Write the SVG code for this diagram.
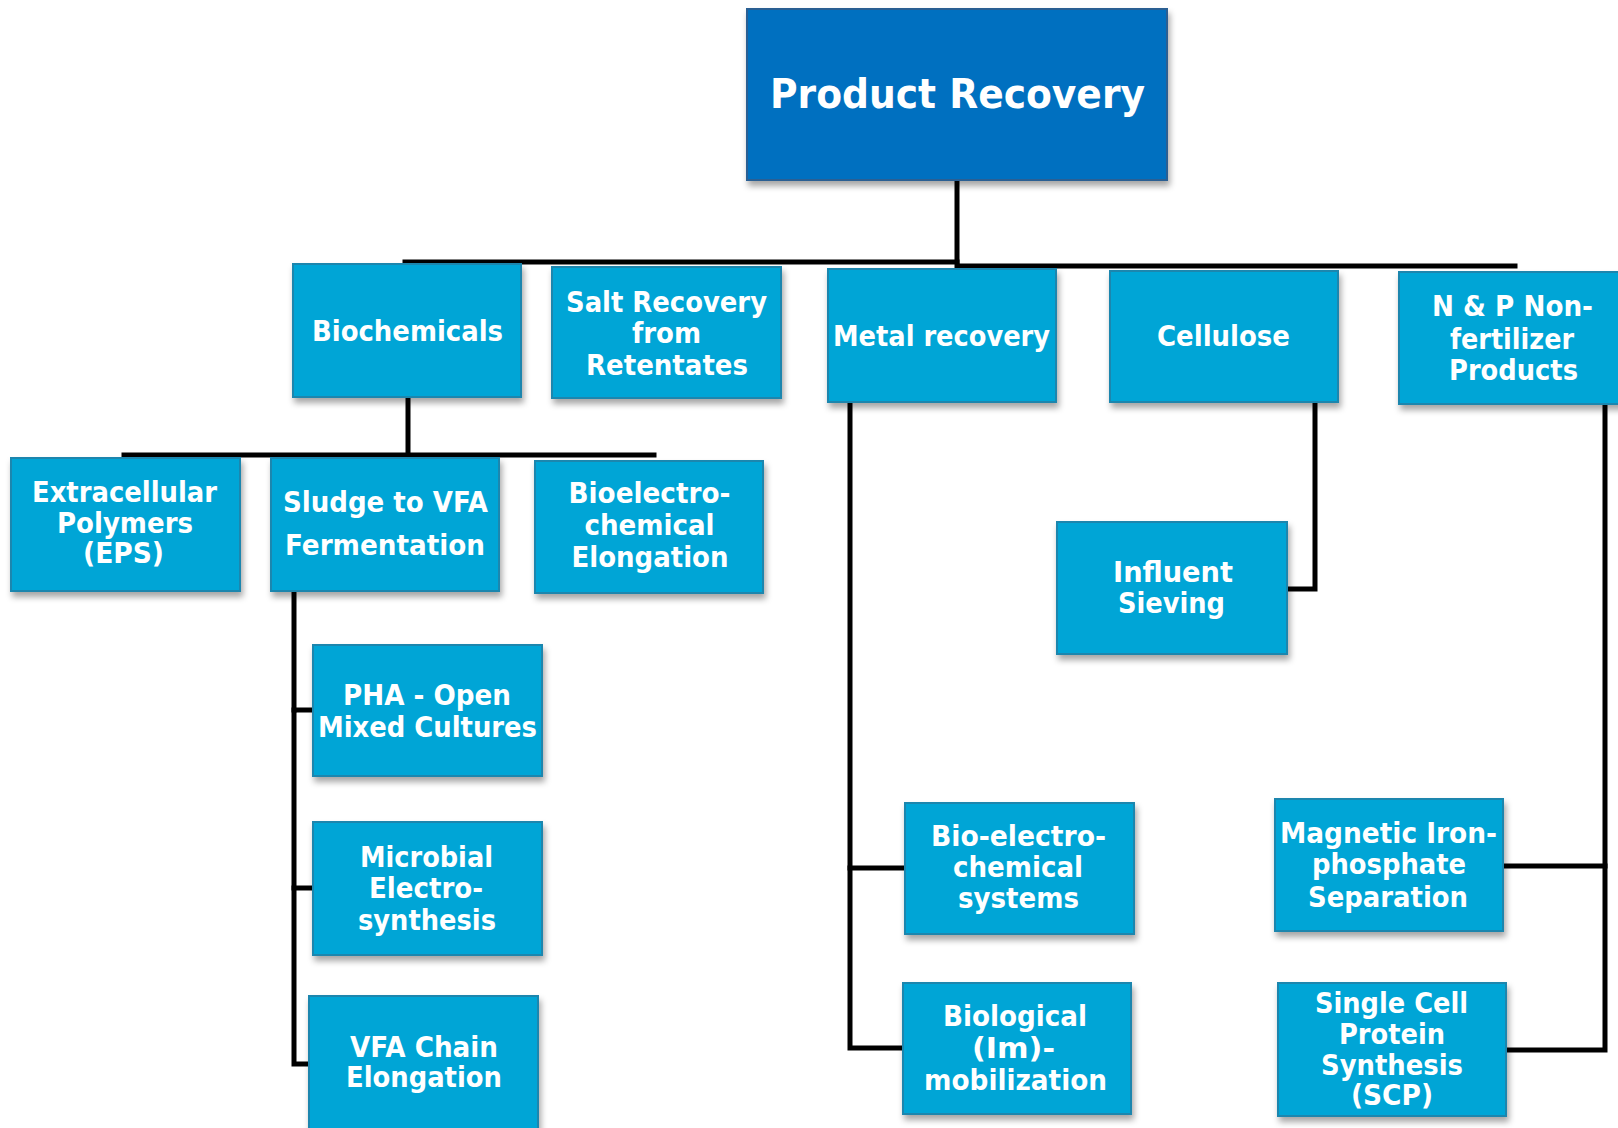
<svg xmlns="http://www.w3.org/2000/svg" width="1618" height="1128" viewBox="0 0 1618 1128">
<defs>
<filter id="sh" x="-10%" y="-10%" width="130%" height="140%">
<feDropShadow dx="2" dy="5" stdDeviation="3" flood-color="#000" flood-opacity="0.35"/>
</filter>
<style>
.box{fill:#03A5D6;stroke:#1A86AE;stroke-width:2;filter:url(#sh)}
.root{fill:#0070C0;stroke:#2A5F93;stroke-width:2;filter:url(#sh)}
text{font-family:"DejaVu Sans","Liberation Sans",sans-serif;font-weight:bold;fill:#FFFFFF;font-size:28px;text-anchor:middle}
.conn{fill:none;stroke:#000;stroke-width:5;stroke-linecap:square;stroke-linejoin:miter}
</style>
</defs>
<rect width="1618" height="1128" fill="#FFFFFF"/>
<g id="connectors">
<polyline class="conn" points="405,262 957,262"/>
<polyline class="conn" points="957,180 957,266 1515,266"/>
<polyline class="conn" points="408,397 408,455"/>
<polyline class="conn" points="124,455 654,455"/>
<polyline class="conn" points="313,710 294,710 294,1064 309,1064"/>
<polyline class="conn" points="294,591 294,710"/>
<polyline class="conn" points="294,888 313,888"/>
<polyline class="conn" points="850,402 850,1048 903,1048"/>
<polyline class="conn" points="850,868 905,868"/>
<polyline class="conn" points="1315,402 1315,589 1287,589"/>
<polyline class="conn" points="1605,404 1605,1050 1506,1050"/>
<polyline class="conn" points="1605,866 1503,866"/>
</g>
<g id="root">
<rect class="root" x="747" y="9" width="420" height="171"/>
<text x="957.5" y="108" style="font-size:41px" textLength="375" lengthAdjust="spacingAndGlyphs">Product Recovery</text>
</g>
<g id="biochemicals">
<rect class="box" x="293" y="264" width="228" height="133"/>
<text x="407.5" y="341" textLength="191" lengthAdjust="spacingAndGlyphs">Biochemicals</text>
</g>
<g id="salt">
<rect class="box" x="552" y="267" width="229" height="131"/>
<text x="666.5" y="312" textLength="201" lengthAdjust="spacingAndGlyphs">Salt Recovery</text>
<text x="666.5" y="343" textLength="69" lengthAdjust="spacingAndGlyphs">from</text>
<text x="667" y="375" textLength="162" lengthAdjust="spacingAndGlyphs">Retentates</text>
</g>
<g id="metal">
<rect class="box" x="828" y="269" width="228" height="133"/>
<text x="941.5" y="346" textLength="217" lengthAdjust="spacingAndGlyphs">Metal recovery</text>
</g>
<g id="cellulose">
<rect class="box" x="1110" y="271" width="228" height="131"/>
<text x="1223.5" y="346" textLength="133" lengthAdjust="spacingAndGlyphs">Cellulose</text>
</g>
<g id="np">
<rect class="box" x="1399" y="272" width="228" height="132"/>
<text x="1512.5" y="316" textLength="161" lengthAdjust="spacingAndGlyphs">N &amp; P Non-</text>
<text x="1512" y="349" textLength="124" lengthAdjust="spacingAndGlyphs">fertilizer</text>
<text x="1513.5" y="380" textLength="129" lengthAdjust="spacingAndGlyphs">Products</text>
</g>
<g id="eps">
<rect class="box" x="11" y="458" width="229" height="133"/>
<text x="124.5" y="502" textLength="185" lengthAdjust="spacingAndGlyphs">Extracellular</text>
<text x="125" y="533" textLength="136" lengthAdjust="spacingAndGlyphs">Polymers</text>
<text x="123.5" y="563" textLength="81" lengthAdjust="spacingAndGlyphs">(EPS)</text>
</g>
<g id="sludge">
<rect class="box" x="271" y="458" width="228" height="133"/>
<text x="385.5" y="512" textLength="205" lengthAdjust="spacingAndGlyphs">Sludge to VFA</text>
<text x="385" y="555" textLength="200" lengthAdjust="spacingAndGlyphs">Fermentation</text>
</g>
<g id="bioelectro">
<rect class="box" x="535" y="461" width="228" height="132"/>
<text x="649.5" y="503" textLength="162" lengthAdjust="spacingAndGlyphs">Bioelectro-</text>
<text x="649.5" y="535" textLength="130" lengthAdjust="spacingAndGlyphs">chemical</text>
<text x="650" y="567" textLength="157" lengthAdjust="spacingAndGlyphs">Elongation</text>
</g>
<g id="influent">
<rect class="box" x="1057" y="522" width="230" height="132"/>
<text x="1173" y="582" textLength="120" lengthAdjust="spacingAndGlyphs">Influent</text>
<text x="1171.5" y="613" textLength="107" lengthAdjust="spacingAndGlyphs">Sieving</text>
</g>
<g id="pha">
<rect class="box" x="313" y="645" width="229" height="131"/>
<text x="427" y="705" textLength="168" lengthAdjust="spacingAndGlyphs">PHA - Open</text>
<text x="427.5" y="737" textLength="219" lengthAdjust="spacingAndGlyphs">Mixed Cultures</text>
</g>
<g id="microbial">
<rect class="box" x="313" y="822" width="229" height="133"/>
<text x="426.5" y="867" textLength="133" lengthAdjust="spacingAndGlyphs">Microbial</text>
<text x="426" y="898" textLength="114" lengthAdjust="spacingAndGlyphs">Electro-</text>
<text x="427" y="930" textLength="138" lengthAdjust="spacingAndGlyphs">synthesis</text>
</g>
<g id="vfa">
<rect class="box" x="309" y="996" width="229" height="140"/>
<text x="424" y="1057" textLength="148" lengthAdjust="spacingAndGlyphs">VFA Chain</text>
<text x="424" y="1087" textLength="156" lengthAdjust="spacingAndGlyphs">Elongation</text>
</g>
<g id="bes">
<rect class="box" x="905" y="803" width="229" height="131"/>
<text x="1018.5" y="846" textLength="175" lengthAdjust="spacingAndGlyphs">Bio-electro-</text>
<text x="1018" y="877" textLength="130" lengthAdjust="spacingAndGlyphs">chemical</text>
<text x="1018.5" y="908" textLength="121" lengthAdjust="spacingAndGlyphs">systems</text>
</g>
<g id="biological">
<rect class="box" x="903" y="983" width="228" height="131"/>
<text x="1015" y="1026" textLength="144" lengthAdjust="spacingAndGlyphs">Biological</text>
<text x="1013.5" y="1058" textLength="83" lengthAdjust="spacingAndGlyphs">(Im)-</text>
<text x="1015.5" y="1090" textLength="183" lengthAdjust="spacingAndGlyphs">mobilization</text>
</g>
<g id="magnetic">
<rect class="box" x="1275" y="799" width="228" height="132"/>
<text x="1388.5" y="843" textLength="217" lengthAdjust="spacingAndGlyphs">Magnetic Iron-</text>
<text x="1389" y="874" textLength="154" lengthAdjust="spacingAndGlyphs">phosphate</text>
<text x="1388" y="907" textLength="160" lengthAdjust="spacingAndGlyphs">Separation</text>
</g>
<g id="scp">
<rect class="box" x="1278" y="983" width="228" height="133"/>
<text x="1391.5" y="1013" textLength="153" lengthAdjust="spacingAndGlyphs">Single Cell</text>
<text x="1392" y="1044" textLength="106" lengthAdjust="spacingAndGlyphs">Protein</text>
<text x="1392" y="1075" textLength="142" lengthAdjust="spacingAndGlyphs">Synthesis</text>
<text x="1392" y="1105" textLength="82" lengthAdjust="spacingAndGlyphs">(SCP)</text>
</g>
</svg>
